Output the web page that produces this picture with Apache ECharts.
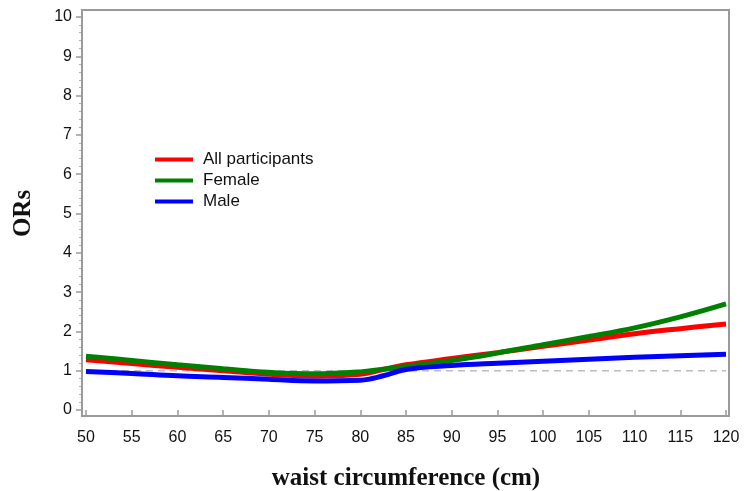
<!DOCTYPE html>
<html>
<head>
<meta charset="utf-8">
<script src="https://cdn.jsdelivr.net/npm/echarts@6/dist/echarts.min.js"></script>
<style>
  html, body { margin: 0; padding: 0; background: #fff; }
  #chart { width: 744px; height: 491px; }
</style>
</head>
<body>
<div id="chart"></div>
<script>
// waist circumference (cm) and ORs
const waist = [50, 55, 60, 65, 70, 75, 80, 82.5, 85, 90, 95, 100, 105, 110, 115, 120]
const allParticipants = [1.28, 1.18, 1.09, 1.00, 0.91, 0.86, 0.91, 1.03, 1.15, 1.31, 1.46, 1.62, 1.78, 1.94, 2.07, 2.19]
const female = [1.37, 1.26, 1.15, 1.05, 0.96, 0.92, 0.97, 1.04, 1.11, 1.26, 1.45, 1.66, 1.87, 2.09, 2.37, 2.70]
const male = [0.98, 0.93, 0.87, 0.83, 0.78, 0.74, 0.76, 0.87, 1.03, 1.13, 1.19, 1.24, 1.29, 1.34, 1.38, 1.42]
const refLine = [[50, 1], [120, 1]]

const zip = (ys) => waist.map((x, i) => [x, ys[i]])

const chart = echarts.init(document.getElementById('chart'))

const lineSeries = (name, color, ys) => ({
  name,
  type: 'line',
  data: zip(ys),
  smooth: 0.4,
  symbol: 'none',
  z: 3,
  lineStyle: { color, width: 5 },
  itemStyle: { color }
})

chart.setOption({
  animation: false,
  grid: { left: 86, right: 18, top: 17, bottom: 81, outerBoundsMode: 'none' },
  graphic: [{
    type: 'rect',
    shape: { x: 82, y: 10, width: 647, height: 406 },
    style: { fill: 'none', stroke: '#9a9a9a', lineWidth: 2 },
    z: 1
  }],
  legend: {
    orient: 'vertical',
    left: 155,
    top: 151,
    padding: 0,
    itemWidth: 38,
    itemHeight: 4,
    itemGap: 4,
    icon: 'rect',
    textStyle: { fontFamily: 'Liberation Sans', fontSize: 17, color: '#111', padding: [0, 0, 0, 5] },
    data: ['All participants', 'Female', 'Male']
  },
  xAxis: {
    type: 'value',
    min: 50,
    max: 120,
    interval: 5,
    offset: 6,
    name: 'waist circumference (cm)',
    nameLocation: 'middle',
    nameGap: 50,
    nameTextStyle: { fontFamily: 'Liberation Serif', fontWeight: 'bold', fontSize: 25, color: '#111' },
    axisLine: { show: false },
    axisTick: { show: true, length: 6, lineStyle: { color: '#9a9a9a', width: 1.5 } },
    axisLabel: { fontFamily: 'Liberation Sans', fontSize: 16, color: '#111', margin: 14 },
    splitLine: { show: false }
  },
  yAxis: {
    type: 'value',
    min: 0,
    max: 10,
    interval: 1,
    offset: 4,
    name: 'ORs',
    nameLocation: 'middle',
    nameGap: 46,
    nameRotate: 90,
    nameTextStyle: { fontFamily: 'Liberation Serif', fontWeight: 'bold', fontSize: 25, color: '#111' },
    axisLine: { show: false },
    axisTick: { show: true, length: 6, lineStyle: { color: '#9a9a9a', width: 1.5 } },
    minorTick: { show: true, splitNumber: 5, length: 3, lineStyle: { color: '#b0b0b0', width: 1 } },
    axisLabel: { fontFamily: 'Liberation Sans', fontSize: 16, color: '#111', margin: 10 },
    splitLine: { show: false }
  },
  series: [
    {
      name: 'ref',
      type: 'line',
      data: refLine,
      symbol: 'none',
      z: 2,
      silent: true,
      lineStyle: { color: '#bdbdbd', width: 1.5, type: [7, 5] }
    },
    lineSeries('All participants', '#ff0000', allParticipants),
    lineSeries('Female', '#007f00', female),
    lineSeries('Male', '#0000ff', male)
  ]
})
</script>
</body>
</html>
